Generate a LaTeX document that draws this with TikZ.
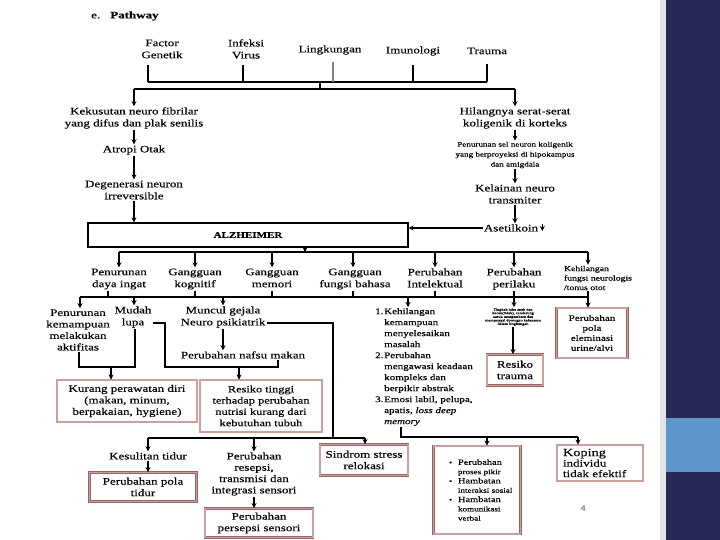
\documentclass[tikz,border=0pt]{standalone}
\usepackage{fontspec}
\setmainfont[FakeStretch=1.3, FakeBold=0.3]{Liberation Serif}
\usetikzlibrary{positioning, arrows.meta}
\definecolor{boxred}{RGB}{150,100,100}
\definecolor{boxpink}{RGB}{205,160,160}
\definecolor{slidenavy}{RGB}{38,41,86}
\definecolor{slideblue}{RGB}{96,150,204}

\begin{document}
\begin{tikzpicture}[x=1pt, y=-1pt,
        lbl/.style={align=center, inner sep=1pt, font=\fontsize{10}{12}\selectfont},
        rowlbl/.style={lbl, execute at end node={\vphantom{g}}},
        smalllbl/.style={align=center, inner sep=1pt, font=\fontsize{7}{10}\selectfont},
        nbox/.style={draw=boxred, line width=0.9pt, double=boxpink, double distance=1.1pt, align=center, inner sep=1pt, font=\fontsize{10}{11.5}\selectfont},
        arrow/.style={-{Stealth[length=5pt, width=5pt]}, line width=1.1pt},
        line/.style={line width=1.1pt},
    ]
        % ====== latar slide ======
        \useasboundingbox (0,0) rectangle (720,540);
        \fill[white] (0,0) rectangle (720,540);
        \fill[black!10] (660,0) rectangle (666,540);
        \fill[slidenavy] (666,0) rectangle (720,540);
        \fill[slideblue] (666,418) rectangle (720,472);

        % ====== judul & penyebab ======
        \node[lbl, anchor=west] (judul) at (90,16) {e.\hspace{10pt}\textbf{Pathway}};
        \node[lbl] (genetik) at (162,49) {Factor\\Genetik};
        \node[lbl] (virus)   at (246,49) {Infeksi\\Virus};
        \node[lbl] (lingk)   at (330,50) {Lingkungan};
        \node[lbl] (imuno)   at (413,51) {Imunologi};
        \node[lbl] (trauma)  at (487,51) {Trauma};

        % ====== kolom kiri ======
        \node[lbl] (kusut)  at (134,118) {Kekusutan neuro fibrilar\\yang difus dan plak senilis};
        \node[lbl] (atropi) at (134,150) {Atropi Otak};
        \node[lbl] (degen)  at (134,190) {Degenerasi neuron\\irreversible};

        % ====== kolom kanan ======
        \node[lbl] (serat)   at (515,118) {Hilangnya serat-serat\\koligenik di korteks};
        \node[smalllbl] (sel) at (515,155) {Penurunan sel neuron koligenik\\yang berproyeksi di hipokampus\\dan amigdala};
        \node[lbl] (transm)  at (515,194) {Kelainan neuro\\transmiter};
        \node[lbl] (asetil)  at (511,228) {Asetilkoin};

        \node[draw, line width=1.1pt, minimum width=320pt, minimum height=24pt,
              font=\fontsize{8.5}{10}\selectfont\bfseries] (alz) at (248,235) {ALZHEIMER};

        % ====== baris gejala ======
        \node[rowlbl] (dayaingat) at (119,279) {Penurunan\\daya ingat};
        \node[rowlbl] (kognitif)  at (195,279) {Gangguan\\kognitif};
        \node[rowlbl] (memori)    at (272,279) {Gangguan\\memori};
        \node[rowlbl] (bahasa)    at (355,279) {Gangguan\\fungsi bahasa};
        \node[rowlbl] (intelek)   at (435,279) {Perubahan\\Intelektual};
        \node[rowlbl] (perilaku)  at (514,279) {Perubahan\\perilaku};
        \node[lbl, align=left, font=\fontsize{7.5}{9.5}\selectfont] (neurol) at (598,278) {Kehilangan\\fungsi neurologis\\/tonus otot};

        % ====== baris ketiga ======
        \node[lbl, font=\fontsize{10}{11.5}\selectfont] (kemampuan) at (78,330) {Penurunan\\kemampuan\\melakukan\\aktifitas};
        \node[lbl] (lupa)   at (133,317) {Mudah\\lupa};
        \node[lbl] (gejala) at (223,317) {Muncul gejala\\Neuro psikiatrik};
        \node[lbl] (nafsu)  at (243,355) {Perubahan nafsu makan};
        \node[lbl, align=left, anchor=north west, font=\fontsize{8.5}{11}\selectfont] (intel) at (374,307)
            {\makebox[9pt][l]{1.}Kehilangan\\\hspace*{9pt}kemampuan\\\hspace*{9pt}menyelesaikan\\\hspace*{9pt}masalah\\
             \makebox[9pt][l]{2.}Perubahan\\\hspace*{9pt}mengawasi keadaan\\\hspace*{9pt}kompleks dan\\\hspace*{9pt}berpikir abstrak\\
             \makebox[9pt][l]{3.}Emosi labil, pelupa,\\\hspace*{9pt}apatis, \textit{loss deep}\\\hspace*{9pt}\textit{memory}};
        \node[lbl, font=\fontsize{3.3}{3.6}\selectfont] (tingkah) at (513,317)
            {Tingkah laku aneh dan\\kacau(tidak), cenderung\\untuk mengembara dan\\mempunyai dorongan kekerasan\\dalam lingkungan};
        \node[nbox, minimum width=56pt, minimum height=31pt] (rtrauma) at (515,370) {Resiko\\trauma};
        \node[nbox, minimum width=71pt, minimum height=50pt, font=\fontsize{8.5}{10}\selectfont] (elim) at (592,333)
            {Perubahan\\pola\\eleminasi\\urine/alvi};

        % ====== diagnosa ======
        \node[nbox, minimum width=140pt, minimum height=42pt] (rawat) at (127,401) {Kurang perawatan diri\\(makan, minum,\\berpakaian, hygiene)};
        \node[nbox, minimum width=122pt, minimum height=52pt, font=\fontsize{9.5}{11.3}\selectfont] (risiko) at (261,406)
            {Resiko tinggi\\terhadap perubahan\\nutrisi kurang dari\\kebutuhan tubuh};
        \node[lbl] (tidur) at (148,456) {Kesulitan tidur};
        \node[nbox, minimum width=107pt, minimum height=29pt] (polatidur) at (143,487) {Perubahan pola\\tidur};
        \node[lbl, font=\fontsize{10}{11.3}\selectfont] (resepsi) at (254,474) {Perubahan\\resepsi,\\transmisi dan\\integrasi sensori};
        \node[nbox, minimum width=108pt, minimum height=29pt] (persepsi) at (259,523) {Perubahan\\persepsi sensori};
        \node[nbox, minimum width=88pt, minimum height=31pt] (relokasi) at (364,460) {Sindrom stress\\relokasi};
        \node[nbox, minimum height=88pt, text width=72pt, inner xsep=7.5pt, align=left, font=\fontsize{7}{9.3}\selectfont] (proses) at (477,490)
            {\hspace*{8pt}\makebox[9pt][l]{\textbullet}{\fontsize{8}{9.3}\selectfont Perubahan}\\\hspace*{17pt}proses pikir\\
             \hspace*{8pt}\makebox[9pt][l]{\textbullet}{\fontsize{8}{9.3}\selectfont Hambatan}\\\hspace*{17pt}interaksi sosial\\
             \hspace*{8pt}\makebox[9pt][l]{\textbullet}{\fontsize{8}{9.3}\selectfont Hambatan}\\\hspace*{17pt}komunikasi\\\hspace*{17pt}verbal};
        \node[nbox, minimum height=36pt, text width=74pt, inner xsep=6pt, align=left, font=\fontsize{10}{10.5}\selectfont] (koping) at (600,463)
            {{\fontsize{11}{10.5}\selectfont Koping}\\individu\\tidak efektif};
        \node[text=gray, inner sep=0pt, font=\fontsize{8}{8}\selectfont] (halaman) at (583,508) {4};

        % ====== panah: penyebab ======
        \coordinate (tG) at (148,82);
        \coordinate (tV) at (243,82);
        \coordinate (tL) at (333,82);
        \coordinate (tI) at (413,82);
        \coordinate (tT) at (487,82);
        \coordinate (busB) at (320,89);
        \coordinate (bL) at (134,89);
        \coordinate (bR) at (515,89);
        \draw[line] (tG) -- (tT);
        \draw[line, shorten <=5pt] (genetik.south -| tG) -- (tG);
        \draw[line, shorten <=5pt] (virus.south -| tV) -- (tV);
        \draw[line, gray, line width=1.6pt, shorten <=6pt] (lingk.south -| tL) -- (tL);
        \draw[line, shorten <=8pt] (imuno.south -| tI) -- (tI);
        \draw[line, shorten <=8pt] (trauma.south -| tT) -- (tT);
        \draw[line] (busB |- tG) -- (busB);
        \draw[line] (bL) -- (bR);
        \draw[arrow] (bL) -- (bL |- kusut.north);
        \draw[arrow] (bR) -- (bR |- serat.north);

        % kiri & kanan
        \draw[arrow] (kusut) -- (atropi);
        \draw[arrow] (atropi) -- (degen);
        \draw[arrow] (degen.south) -- (degen.south |- alz.north);
        \draw[arrow] (serat) -- (sel);
        \draw[arrow] (sel) -- (transm);
        \draw[arrow] (transm.south) -- (transm.south |- asetil.north);
        \draw[arrow] (asetil.west) -- (asetil.west -| alz.east);
        \draw[arrow] ([xshift=3pt, yshift=4pt]asetil.east) -- ++(0,7);

        % ====== panah: ALZHEIMER ke gejala ======
        \coordinate (rowA) at (305,252);
        \coordinate (a1) at (119,252);
        \coordinate (a2) at (195,252);
        \coordinate (a3) at (272,252);
        \coordinate (a4) at (353,252);
        \coordinate (a5) at (435,252);
        \coordinate (a6) at (514,252);
        \coordinate (a7) at (588,252);
        \draw[arrow] (alz.south -| rowA) -- (rowA);
        \draw[line] (a1) -- (a7);
        \foreach \c/\n in {a1/dayaingat, a2/kognitif, a3/memori, a4/bahasa, a5/intelek, a6/perilaku, a7/neurol}
            \draw[arrow] (\c) -- (\c |- \n.north);

        % bus kedua
        \coordinate (c1) at (108,297);
        \coordinate (c2) at (195,297);
        \coordinate (c3) at (272,297);
        \coordinate (c4) at (353,297);
        \coordinate (c5) at (435,297);
        \coordinate (c6) at (588,297);
        \coordinate (d1) at (80,297);
        \coordinate (d2) at (134,297);
        \coordinate (d3) at (223,297);
        \coordinate (d4) at (408,297);
        \draw[line] (d1) -- (c6);
        \foreach \c/\n in {c1/dayaingat, c2/kognitif, c3/memori, c4/bahasa, c5/intelek, c6/neurol}
            \draw[line] (\n.south -| \c) -- (\c);
        \foreach \c/\n in {d1/kemampuan, d2/lupa, d3/gejala, d4/intel, c6/elim}
            \draw[arrow] (\c) -- (\c |- \n.north);
        \draw[arrow] (perilaku.south) -- (perilaku.south |- tingkah.north);
        \draw[arrow] (tingkah.south) -- (tingkah.south |- rtrauma.north);
        \draw[arrow] (gejala.south) -- (gejala.south |- nafsu.north);

        % ====== panah: ke diagnosa ======
        \coordinate (jA)  at (111,367);
        \coordinate (jAl) at (79,367);
        \coordinate (jAr) at (135,367);
        \draw[line] (kemampuan.south -| jAl) -- (jAl) -- (jAr) -- (lupa.south -| jAr);
        \draw[arrow] (jA) -- (jA |- rawat.north);
        \coordinate (jB)  at (239,367);
        \coordinate (jBl) at (165,367);
        \coordinate (jBr) at (278,367);
        \draw[line] ([yshift=-6pt]lupa.east) -| (jBl) -- (jBr) -- (nafsu.south -| jBr);
        \draw[arrow] (jB) -- (jB |- risiko.north);

        \coordinate (jC) at (333,438);
        \coordinate (e1) at (148,438);
        \coordinate (e2) at (254,438);
        \coordinate (e3) at (365,438);
        \draw[line] ([yshift=-6pt]gejala.east) -| (jC);
        \draw[line] (e1) -- (e3);
        \draw[arrow] (e1) -- (e1 |- tidur.north);
        \draw[arrow] (e2) -- (e2 |- resepsi.north);
        \draw[arrow] (e3) -- (e3 |- relokasi.north);
        \draw[arrow] (tidur.south) -- (tidur.south |- polatidur.north);
        \draw[arrow] (resepsi.south) -- (resepsi.south |- persepsi.north);

        \coordinate (f0) at (401,437);
        \coordinate (f1) at (487,437);
        \coordinate (f2) at (578,437);
        \draw[line] (intel.south -| f0) -- (f0) -- (f2);
        \draw[arrow] (f1) -- (f1 |- proses.north);
        \draw[arrow] (f2) -- (f2 |- koping.north);
    \end{tikzpicture}
\end{document}
